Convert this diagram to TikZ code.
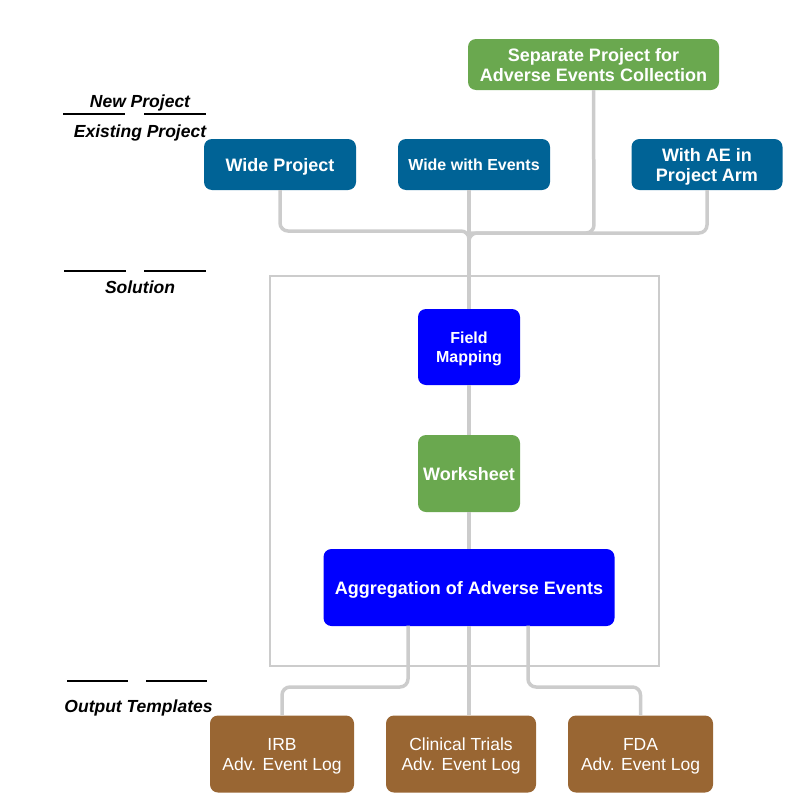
\documentclass[tikz,border=0pt]{standalone}
\usepackage{fontspec}
\setmainfont{Liberation Sans}
\definecolor{topblue}{RGB}{0,99,150}
\definecolor{leafgreen}{RGB}{106,168,79}
\definecolor{brownbox}{RGB}{153,102,51}
\definecolor{pureblue}{RGB}{0,0,255}
\definecolor{connc}{RGB}{204,204,204}
\tikzset{
  boxbase/.style={rounded corners=8pt, inner sep=0pt, align=center, text=white, text depth=0pt},
  tbox/.style={boxbase, fill=topblue, font=\fontsize{18}{20}\selectfont\bfseries},
  gbox/.style={boxbase, fill=leafgreen, font=\fontsize{18}{20}\selectfont\bfseries},
  bbox/.style={boxbase, fill=pureblue, font=\fontsize{18}{20}\selectfont\bfseries},
  obox/.style={boxbase, fill=brownbox, font=\fontsize{17.5}{20}\selectfont},
  conn/.style={draw=connc, line width=3.5pt, rounded corners=8pt},
  lbl/.style={font=\fontsize{17.5}{20}\selectfont\bfseries\itshape, inner sep=0pt, text depth=0pt},
  rule/.style={line width=1.5pt, black}
}
\begin{document}
\begin{tikzpicture}[x=1pt,y=-1pt]
\useasboundingbox (0,0) rectangle (804,811);
% solution frame
\draw[connc, line width=2pt] (270,276) rectangle (658.5,666);
% top nodes
\node[gbox, minimum width=251, minimum height=51] (sep) at (593.5,64.5) {Separate Project for\\Adverse Events Collection};
\node[tbox, minimum width=152, minimum height=51] (wp) at (280,164.5) {Wide Project};
\node[tbox, minimum width=152, minimum height=51, font=\fontsize{16}{19}\selectfont\bfseries] (wwe) at (474,164.5) {Wide with Events};
\node[tbox, minimum width=151, minimum height=51] (ae) at (707,164.5) {With AE in\\Project Arm};
% solution nodes
\node[bbox, minimum width=102, minimum height=76, font=\fontsize{16}{19}\selectfont\bfseries] (fm) at (469,347) {Field\\Mapping};
\node[gbox, minimum width=102, minimum height=77] (ws) at (469,473.5) {Worksheet};
\node[bbox, minimum width=291, minimum height=77] (agg) at (469,587.5) {Aggregation of Adverse Events};
% output nodes
\node[obox, minimum width=144, minimum height=77] (irb) at (282,754) {IRB\\Adv. Event Log};
\node[obox, minimum width=150, minimum height=77] (ct) at (461,754) {Clinical Trials\\Adv. Event Log};
\node[obox, minimum width=145, minimum height=77] (fda) at (640.5,754) {FDA\\Adv. Event Log};
% connectors top
\coordinate (j1) at (280,231);
\coordinate (j2) at (469,231);
\coordinate (j3) at (594,233);
\coordinate (j4) at (469,233);
\coordinate (j5) at (707,233);
\draw[conn] (wp.south) -- (j1) -- (j2) -- (fm.north);
\draw[conn] (wwe.south -| fm.north) -- (fm.north);
\draw[conn] (sep.south) -- (j3) -- (j4);
\draw[conn] (ae.south) -- (j5) -- (j4) -- (fm.north);
% middle
\draw[conn] (fm.south) -- (ws.north);
\draw[conn] (ws.south) -- (agg.south |- agg.north);
% bottom
\coordinate (a1) at (408,625.5);
\coordinate (a3) at (528,625.5);
\draw[conn] (a1) -- (408,687) -- (282,687) -- (irb.north);
\draw[conn] (agg.south) -- (agg.south |- ct.north);
\draw[conn] (a3) -- (528,687) -- (640.5,687) -- (fda.north);
% left labels
\node[lbl] (np) at (140,101) {New Project};
\node[lbl] (ep) at (140,131) {Existing Project};
\draw[rule] (63,114) -- (125,114);
\draw[rule] (144,114) -- (206,114);
\draw[rule] (64,271) -- (126,271);
\draw[rule] (144,271) -- (206,271);
\node[lbl] (sol) at (140,287) {Solution};
\draw[rule] (67,681) -- (128,681);
\draw[rule] (146,681) -- (207,681);
\node[lbl] (ot) at (138.5,706) {Output Templates};
\end{tikzpicture}
\end{document}
